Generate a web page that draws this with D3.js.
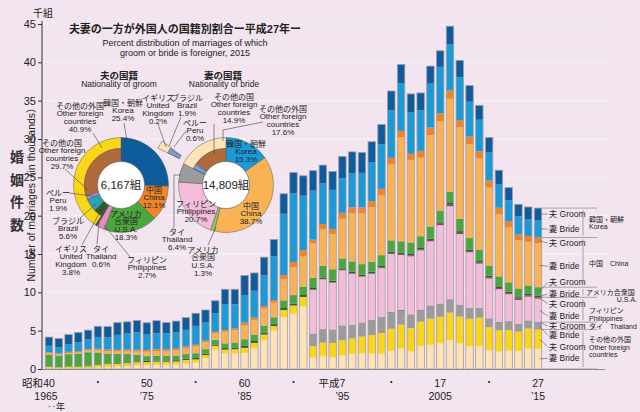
<!DOCTYPE html>
<html><head><meta charset="utf-8">
<script src="https://cdn.jsdelivr.net/npm/d3@7"></script>
<style>
html,body{margin:0;padding:0;background:#f3e5ef;}
svg{display:block;font-family:"Liberation Sans","Noto Sans CJK JP",sans-serif;}
</style></head><body>
<svg id="c" width="640" height="412"></svg>
<script>
// ---------------- DATA (thousands of marriages) ----------------
const years = [1965,1966,1967,1968,1969,1970,1971,1972,1973,1974,1975,1976,1977,1978,1979,1980,1981,1982,1983,1984,1985,1986,1987,1988,1989,1990,1991,1992,1993,1994,1995,1996,1997,1998,1999,2000,2001,2002,2003,2004,2005,2006,2007,2008,2009,2010,2011,2012,2013,2014,2015];
const koreaGroom   = [1.13,1.17,1.30,1.30,1.22,1.39,1.40,1.60,1.52,1.56,1.55,1.65,1.40,1.50,1.60,1.65,1.65,1.65,1.96,1.96,2.53,2.33,2.37,2.20,2.60,2.72,2.60,2.60,2.40,2.40,2.84,2.76,2.67,2.64,2.60,2.51,2.48,2.38,2.24,2.29,2.09,2.34,2.20,2.10,1.88,1.98,1.80,1.67,1.57,1.57,1.57];
const koreaBride   = [0.84,0.78,0.96,1.13,1.26,1.54,1.60,1.95,2.10,2.26,1.99,2.04,2.10,2.10,2.17,2.46,2.36,2.40,3.35,3.17,3.62,3.50,4.00,5.70,8.00,8.94,7.10,6.40,5.30,5.10,4.52,4.46,4.50,5.10,5.80,6.21,6.19,5.44,5.32,5.73,6.07,6.04,5.60,4.56,4.11,3.66,3.10,2.71,2.37,2.21,2.27];
const chinaGroom   = [0.16,0.14,0.15,0.17,0.20,0.20,0.20,0.20,0.22,0.24,0.24,0.26,0.23,0.25,0.26,0.19,0.20,0.20,0.22,0.22,0.38,0.30,0.35,0.35,0.50,0.71,0.75,0.50,0.65,0.65,0.77,0.80,0.80,0.80,0.85,0.88,0.79,0.80,0.89,0.97,1.02,1.08,0.95,1.00,0.95,0.91,0.85,0.80,0.78,0.76,0.75];
const chinaBride   = [0.14,0.13,0.15,0.17,0.20,0.28,0.30,0.33,0.36,0.40,0.57,0.61,0.60,0.65,0.72,0.91,0.90,0.85,1.52,1.60,1.77,1.90,2.20,1.90,2.80,3.61,4.00,4.50,4.80,4.60,5.17,6.26,6.60,7.10,7.80,9.88,13.60,10.75,10.24,11.92,11.64,12.13,11.93,12.22,11.92,10.16,8.10,7.17,6.25,5.69,5.73];
const usaGroom     = [1.59,1.50,1.62,1.70,1.78,1.57,1.30,1.20,1.08,0.87,0.63,0.62,0.60,0.60,0.60,0.63,0.60,0.60,0.62,0.65,0.88,0.85,0.90,0.90,1.00,1.09,1.10,1.30,1.50,1.50,1.30,1.36,1.35,1.30,1.40,1.48,1.49,1.50,1.53,1.59,1.55,1.47,1.60,1.50,1.45,1.33,1.30,1.22,1.15,1.10,1.13];
const usaBride     = [0.03,0.03,0.04,0.04,0.05,0.08,0.08,0.08,0.10,0.12,0.15,0.15,0.16,0.16,0.17,0.18,0.17,0.17,0.20,0.22,0.25,0.25,0.26,0.25,0.25,0.26,0.25,0.20,0.20,0.20,0.20,0.20,0.20,0.20,0.20,0.20,0.20,0.19,0.20,0.18,0.18,0.22,0.22,0.20,0.20,0.23,0.22,0.20,0.20,0.20,0.19];
const philGroom    = [0,0,0,0,0,0,0,0,0,0,0,0,0,0,0,0,0,0,0,0,0,0,0,0,0,0,0,0.05,0.05,0.05,0.05,0.06,0.07,0.08,0.10,0.11,0.11,0.12,0.12,0.17,0.19,0.20,0.16,0.15,0.14,0.14,0.15,0.14,0.15,0.16,0.17];
const philBride    = [0,0,0,0,0,0,0,0,0,0,0,0,0,0,0,0,0,0,0,0,0,0,0,0,0,0,0,5.70,6.50,6.10,7.19,6.65,6.00,6.00,6.40,7.52,7.16,7.60,7.79,8.40,10.24,12.15,9.22,7.29,5.76,5.21,4.29,3.52,3.12,3.12,3.07];
const thaiGroom    = [0,0,0,0,0,0,0,0,0,0,0,0,0,0,0,0,0,0,0,0,0,0,0,0,0,0,0,0.02,0.02,0.02,0.02,0.03,0.03,0.04,0.06,0.07,0.07,0.06,0.06,0.06,0.06,0.05,0.05,0.05,0.04,0.04,0.04,0.04,0.04,0.04,0.04];
const thaiBride    = [0,0,0,0,0,0,0,0,0,0,0,0,0,0,0,0,0,0,0,0,0,0,0,0,0,0,0,1.60,1.74,1.74,1.92,1.76,1.80,1.95,2.00,2.14,1.84,1.72,1.45,1.64,1.64,1.68,1.48,1.34,1.23,1.10,1.05,1.09,0.98,1.00,0.94];
const otherGroom   = [0.21,0.18,0.21,0.20,0.26,0.29,0.35,0.35,0.38,0.40,0.40,0.42,0.40,0.42,0.45,0.41,0.42,0.48,0.50,0.55,0.66,0.70,0.75,0.60,0.90,1.08,1.20,1.50,1.72,1.90,1.96,2.00,2.20,2.40,2.70,2.89,3.10,3.00,3.20,3.40,3.47,3.57,3.50,3.60,3.71,2.97,2.75,2.70,2.50,2.60,2.52];
const otherBride   = [0.06,0.05,0.07,0.07,0.10,0.22,0.30,0.34,0.39,0.48,0.50,0.55,0.56,0.57,0.73,0.84,1.40,2.55,2.03,2.03,2.10,2.70,3.75,5.00,6.80,7.21,8.20,1.50,1.72,1.50,1.79,1.98,2.03,2.03,1.99,2.37,2.69,2.32,2.97,3.16,3.35,3.78,3.35,2.95,3.00,2.48,2.28,2.40,2.37,2.68,2.61];

// Donut data (2015, %)
const groomNations = ["Korea","China","USA","Philippines","Thailand","Other"];
const groomPct     = [25.4,12.1,18.3,2.7,0.6,40.9];
const groomOtherNations = ["UK","Brazil","Peru","OtherCountries"];
const groomOtherPct     = [3.8,5.6,1.9,29.7];
const brideNations = ["Korea","China","USA","Philippines","Thailand","Other"];
const bridePct     = [15.3,38.7,1.3,20.7,6.4,17.6];
const brideOtherNations = ["UK","Brazil","Peru","OtherCountries"];
const brideOtherPct     = [0.2,1.9,0.6,14.9];
const groomTotalLabel = "6,167組";
const brideTotalLabel = "14,809組";

// Axis labels
const yTickValues = [0,5,10,15,20,25,30,35,40,45];
const xLabelYears = [1965,1975,1985,1995,2005,2015];
const xEra        = ["昭和","","","平成","",""];
const xEraNum     = ["40","50","60","7","17","27"];
const xWestern    = ["1965","’75","’85","’95","2005","’15"];
const xDotYears   = [1970,1980,1990,2000,2010];

// ---------------- SETUP ----------------
const W=640,H=412;
const svg=d3.select("#c");
svg.append("rect").attr("width",W).attr("height",H).attr("fill","#f3e5ef");

const x=d3.scaleBand().domain(years).range([44.1,542.9]).paddingInner(0.243).paddingOuter(0.1215);
const y=d3.scaleLinear().domain([0,45]).range([369,24]);
const xc=d=>x(d)+x.bandwidth()/2;

// gridlines
svg.append("g").selectAll("line").data(yTickValues.filter(d=>d>0)).join("line")
  .attr("x1",43).attr("x2",612).attr("y1",d=>y(d)).attr("y2",d=>y(d))
  .attr("stroke","#ffffff").attr("stroke-width",0.9).attr("stroke-dasharray","2,2");

// stack
const keys=["otherBride","otherGroom","thaiBride","thaiGroom","philBride","philGroom","usaBride","usaGroom","chinaBride","chinaGroom","koreaBride","koreaGroom"];
const src={otherBride,otherGroom,thaiBride,thaiGroom,philBride,philGroom,usaBride,usaGroom,chinaBride,chinaGroom,koreaBride,koreaGroom};
const colors={otherBride:"#fde3b6",otherGroom:"#fbd616",thaiBride:"#9c9c9c",thaiGroom:"#3a3a3a",
  philBride:"#f3bcd8",philGroom:"#8f3f73",usaBride:"#2c5e2a",usaGroom:"#4ca63f",
  chinaBride:"#f9b354",chinaGroom:"#ef8526",koreaBride:"#1a9bd8",koreaGroom:"#0e5c9c"};
const rows=years.map((yr,i)=>{const r={year:yr};keys.forEach(k=>r[k]=src[k][i]);return r;});
const stack=d3.stack().keys(keys)(rows);

const gb=svg.append("g");
gb.selectAll("g").data(stack).join("g").attr("fill",s=>colors[s.key])
  .selectAll("rect").data(s=>s).join("rect")
  .attr("x",d=>x(d.data.year)).attr("width",x.bandwidth())
  .attr("y",d=>y(d[1])).attr("height",d=>Math.max(0,y(d[0])-y(d[1])));
// outlines
gb.append("g").selectAll("rect").data(rows).join("rect")
  .attr("x",d=>x(d.year)).attr("width",x.bandwidth())
  .attr("y",d=>y(d3.sum(keys,k=>d[k]))).attr("height",d=>y(0)-y(d3.sum(keys,k=>d[k])))
  .attr("fill","none").attr("stroke","#a59ca6").attr("stroke-width",0.8);

// y axis
const yAxis=d3.axisLeft(y).tickValues(yTickValues).tickSize(4).tickPadding(2).tickSizeOuter(0);
const ga=svg.append("g").attr("transform","translate(42,0)").call(yAxis);
ga.select(".domain").attr("stroke","#333").attr("d","M0,21V369");
ga.selectAll(".tick line").attr("stroke","#333");
ga.selectAll("text").attr("font-size",11).attr("fill","#222").attr("font-family","Liberation Sans, sans-serif");
// x baseline
svg.append("line").attr("x1",42).attr("x2",605).attr("y1",y(0)+0.5).attr("y2",y(0)+0.5).attr("stroke","#8a8a8a").attr("stroke-width",1);

// unit
svg.append("text").attr("x",43).attr("y",13).attr("text-anchor","middle").attr("dominant-baseline","central").attr("font-size",10).attr("fill","#222").text("千組");

// y title
["婚","姻","件","数"].forEach((c,i)=>svg.append("text").attr("x",17).attr("y",157+i*22.5).attr("text-anchor","middle").attr("dominant-baseline","central").attr("font-size",14).attr("font-weight","bold").attr("fill","#333").text(c));
svg.append("text").attr("transform","translate(31,192) rotate(-90)").attr("text-anchor","middle").attr("dominant-baseline","central").attr("font-size",10.5).attr("fill","#222").text("Number of marriages（in thousands）");

// x labels
const gx=svg.append("g").attr("font-size",10.5).attr("fill","#222");
xLabelYears.forEach((yr,i)=>{
  const cx=xc(yr);
  gx.append("text").attr("x",cx).attr("y",383).attr("text-anchor","middle").attr("dominant-baseline","central").text(xEraNum[i]);
  if(xEra[i]) gx.append("text").attr("x",cx-xEraNum[i].length*3).attr("y",383).attr("text-anchor","end").attr("dominant-baseline","central").text(xEra[i]);
  gx.append("text").attr("x",cx-(i===0?3:0)).attr("y",395.5).attr("text-anchor","middle").attr("dominant-baseline","central").text(xWestern[i]);
});
gx.append("text").attr("x",56).attr("y",406.5).attr("text-anchor","middle").attr("dominant-baseline","central").attr("font-size",9).text("‥年");
xDotYears.forEach(yr=>gx.append("circle").attr("cx",xc(yr)).attr("cy",382).attr("r",1.1).attr("fill","#222"));

// ---------------- LEGEND (right) ----------------
const lastStack=stack.map(s=>({key:s.key,y0:s[s.length-1][0],y1:s[s.length-1][1]}));
const legendLabelVal={koreaGroom:20.2,koreaBride:18.25,chinaGroom:16.4,chinaBride:13.4,usaGroom:11.3,usaBride:9.8,philGroom:8.5,philBride:6.9,thaiGroom:5.6,thaiBride:4.4,otherGroom:2.9,otherBride:1.4};
const barRight=x(2015)+x.bandwidth();
const gl=svg.append("g").attr("font-size",8.5).attr("fill","#222");
lastStack.forEach(s=>{
  const ly=y(legendLabelVal[s.key]);
  gl.append("line").attr("x1",barRight-2).attr("y1",y((s.y0+s.y1)/2)).attr("x2",barRight+6).attr("y2",ly).attr("stroke","#555").attr("stroke-width",0.6);
  gl.append("text").attr("x",barRight+7).attr("y",ly).attr("dominant-baseline","central")
    .text((s.key.endsWith("Groom")?"夫 Groom":"妻 Bride"));
});
const groupKeys=[["koreaGroom","koreaBride"],["chinaGroom","chinaBride"],["usaGroom","usaBride"],["philGroom","philBride"],["thaiGroom","thaiBride"],["otherGroom","otherBride"]];
const bounds=[];
groupKeys.forEach(g=>{const top=lastStack.find(s=>s.key===g[0]).y1;const bot=lastStack.find(s=>s.key===g[1]).y0;bounds.push([top,bot]);});
const sepVals=[bounds[0][0]].concat(bounds.map(b=>b[1]));
sepVals.forEach(v=>gl.append("line").attr("x1",barRight).attr("x2",597).attr("y1",y(v)).attr("y2",y(v)).attr("stroke","#888").attr("stroke-width",0.7));
bounds.forEach(b=>{
  gl.append("line").attr("x1",583).attr("x2",583).attr("y1",y(b[0])+2).attr("y2",y(b[1])-2).attr("stroke","#888").attr("stroke-width",0.7);
});
const countryLabels=[
  {x:589,y:219,t:"韓国・朝鮮"},{x:589,y:226.5,t:"Korea"},
  {x:589,y:263,t:"中国　China"},
  {x:586,y:292,t:"アメリカ合衆国"},{x:637,y:299.5,t:"U.S.A.",a:"end"},
  {x:589,y:310.5,t:"フィリピン"},{x:589,y:318,t:"Philippines"},
  {x:589,y:326.5,t:"タイ　Thailand"},
  {x:589,y:339.5,t:"その他の外国"},{x:589,y:347,t:"Other foreign"},{x:589,y:354.5,t:"countries"}];
countryLabels.forEach(c=>gl.append("text").attr("x",c.x).attr("y",c.y).attr("text-anchor",c.a||"start").attr("dominant-baseline","central").attr("font-size",7).text(c.t));

// ---------------- TITLE ----------------
svg.append("text").attr("x",185).attr("y",29).attr("text-anchor","middle").attr("dominant-baseline","central").attr("font-size",11).attr("font-weight","bold").attr("fill","#222").text("夫妻の一方が外国人の国籍別割合ー平成27年ー");
svg.append("text").attr("x",185).attr("y",43).attr("text-anchor","middle").attr("dominant-baseline","central").attr("font-size",9).attr("fill","#222").text("Percent distribution of marriages of which");
svg.append("text").attr("x",185).attr("y",53).attr("text-anchor","middle").attr("dominant-baseline","central").attr("font-size",9).attr("fill","#222").text("groom or bride is foreigner, 2015");

// ---------------- DONUTS ----------------
const R_OUT=47.5,R_IN=23.5,R_SPLIT=36.5;
function donut(cx,cy,pcts,names,otherPcts,otherNames,colMain,colOther,otherBandColor,centerLabel,explode){
  const g=svg.append("g").attr("transform",`translate(${cx},${cy})`);
  g.append("circle").attr("r",R_OUT).attr("fill","#fff");
  const pie=d3.pie().sort(null).value(d=>d)(pcts);
  const arcFull=d3.arc().innerRadius(R_IN).outerRadius(R_OUT);
  const arcBand=d3.arc().innerRadius(R_SPLIT).outerRadius(R_OUT);
  const arcInner=d3.arc().innerRadius(R_IN).outerRadius(R_SPLIT);
  pie.forEach((p,i)=>{
    if(names[i]==="Other"){
      g.append("path").attr("d",arcBand(p)).attr("fill",otherBandColor).attr("stroke","#555").attr("stroke-width",0.5);
    } else {
      g.append("path").attr("d",arcFull(p)).attr("fill",colMain[i]).attr("stroke","#555").attr("stroke-width",0.5);
    }
  });
  const op=pie[pie.length-1];
  const sub=d3.pie().sort(null).startAngle(op.startAngle).endAngle(op.endAngle).value(d=>d)(otherPcts);
  sub.forEach((p,i)=>g.append("path").attr("d",arcInner(p)).attr("fill",colOther[i]).attr("stroke","#555").attr("stroke-width",0.5));
  if(explode){
    const a0=sub[0].startAngle,a1=sub[2].endAngle,am=(a0+a1)/2;
    const ge=g.append("g").attr("transform",`translate(${Math.sin(am)*30},${-Math.cos(am)*30})`);
    ge.append("path").attr("d",arcBand({startAngle:a0,endAngle:a1})).attr("fill",otherBandColor).attr("stroke","#555").attr("stroke-width",0.5);
    sub.slice(0,3).forEach((p,i)=>ge.append("path").attr("d",arcInner(p)).attr("fill",colOther[i]).attr("stroke","#555").attr("stroke-width",0.4));
  }
  g.append("circle").attr("r",R_IN).attr("fill","#fff").attr("stroke","#555").attr("stroke-width",0.5);
  g.append("text").attr("text-anchor","middle").attr("dominant-baseline","central").attr("font-size",11.5).attr("fill","#222").text(centerLabel);
}
donut(121,185,groomPct,groomNations,groomOtherPct,groomOtherNations,
  ["#0e5c9c","#ef8526","#4ca63f","#e58cc0","#3a3a3a"],["#2d5a2b","#27a3b6","#a58ccd","#b06a3b"],"#fbd616",groomTotalLabel,false);
donut(226,185,bridePct,brideNations,brideOtherPct,brideOtherNations,
  ["#1a9bd8","#f9b354","#8ccb62","#f3bcd8","#9c9c9c"],["#4a4a8a","#6fa6dc","#a58ccd","#b06a3b"],"#fde3b6",brideTotalLabel,true);

// donut labels
const LS=7.7;
const donutLabels=[
  {x:119,y:75,lines:["夫の国籍"],fs:9.5,b:true},{x:119,y:84,lines:["Nationality of groom"],fs:8.5},
  {x:223,y:75,lines:["妻の国籍"],fs:9.5,b:true},{x:224,y:84,lines:["Nationality of bride"],fs:8.5},
  {x:123,y:103,lines:["韓国・朝鮮","Korea","25.4%"],lead:[[124,123],[127,141]]},
  {x:80,y:106,lines:["その他の外国","Other foreign","countries","40.9%"],lead:[[93,133],[102,148]]},
  {x:62,y:143,lines:["その他の国","Other foreign","countries","29.7%"],lead:[[65,169],[88,190]]},
  {x:58,y:193,lines:["ペルー","Peru","1.9%"],lead:[[69,193],[93,196]]},
  {x:68,y:221,lines:["ブラジル","Brazil","5.6%"],lead:[[80,218],[96,204]]},
  {x:71,y:249,lines:["イギリス","United","Kingdom","3.8%"],lead:[[82,245],[101,210]]},
  {x:101,y:249,lines:["タイ","Thailand","0.6%"],lead:[[97,244],[99,222]]},
  {x:147,y:260,lines:["フィリピン","Philippines","2.7%"],lead:[[131,258],[104,225]]},
  {x:154,y:190,lines:["中国","China","12.1%"]},
  {x:126,y:214,lines:["アメリカ","合衆国","U.S.A.","18.3%"]},
  {x:158,y:98,lines:["イギリス","United","Kingdom","0.2%"],lead:[[158,124],[166,147]]},
  {x:187,y:98,lines:["ブラジル","Brazil","1.9%"],lead:[[181,117],[169,146]]},
  {x:195,y:123,lines:["ペルー","Peru","0.6%"],lead:[[186,131],[174,147]]},
  {x:234,y:97,lines:["その他の国","Other foreign","countries","14.9%"],lead:[[214,124],[214,154]]},
  {x:283,y:109,lines:["その他の外国","Other foreign","countries","17.6%"],lead:[[263,122],[223,130],[223,141]]},
  {x:246,y:144,lines:["韓国・朝鮮","Korea","15.3%"]},
  {x:251,y:206,lines:["中国","China","38.7%"]},
  {x:196,y:204,lines:["フィリピン","Philippines","20.7%"]},
  {x:177,y:232,lines:["タイ","Thailand","6.4%"],lead:[[174,228],[174,175],[181,175]]},
  {x:203,y:250,lines:["アメリカ","合衆国","U.S.A.","1.3%"],lead:[[208,245],[216,227]]}
];
const gd=svg.append("g").attr("fill","#222");
donutLabels.forEach(l=>{
  if(l.lead) gd.append("path").attr("d",d3.line()(l.lead)).attr("fill","none").attr("stroke","#444").attr("stroke-width",0.6);
  l.lines.forEach((t,i)=>gd.append("text").attr("x",l.x).attr("y",l.y+i*LS).attr("text-anchor","middle").attr("dominant-baseline","central")
    .attr("font-size",l.fs||8).attr("font-weight",l.b?"bold":"normal").text(t));
});
</script>
</body></html>
